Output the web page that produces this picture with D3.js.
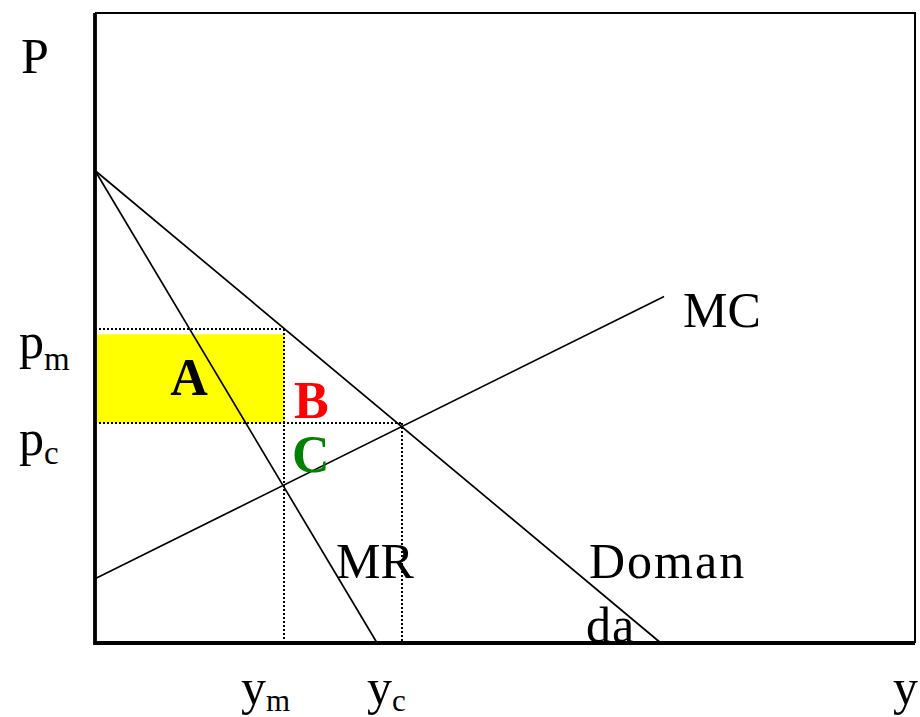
<!DOCTYPE html>
<html>
<head>
<meta charset="utf-8">
<script src="https://cdn.jsdelivr.net/npm/d3@7"></script>
<style>
html,body{margin:0;padding:0;background:#fff;}
svg{display:block;}
text{font-family:"Liberation Serif","Times New Roman",serif;}
</style>
</head>
<body>
<svg id="chart" width="920" height="717"></svg>
<script>
// ---- data ----
const demandLine = [[0, 75], [69, 0]];
const mrLine = [[0, 75], [34.4, 0]];
const mcLine = [[0, 10.2], [69.4, 55]];
const qMonopoly = 23.1;   // y_m
const qCompetitive = 37.4; // y_c
const pMonopoly = 49.8;   // p_m
const pCompetitive = 34.9; // p_c
const areaATop = 49.0;
const curveLabels = ["MC", "MR", "Doman", "da"];
const axisLabels = ["P", "y"];
const areaLabels = ["A", "B", "C"];

const svg = d3.select("#chart");
const x = d3.scaleLinear().domain([0, 100]).range([95, 915]);
const y = d3.scaleLinear().domain([0, 100]).range([643, 13]);
const line = d3.line().x(d => x(d[0])).y(d => y(d[1]));
const crispLine = d3.line().x(d => Math.round(x(d[0]))).y(d => Math.round(y(d[1])));

// yellow area A
svg.append("rect")
  .attr("x", x(0)).attr("y", y(areaATop))
  .attr("width", x(qMonopoly) - x(0))
  .attr("height", y(pCompetitive) - y(areaATop))
  .attr("fill", "#ffff00");

// frame top/right
svg.append("path")
  .attr("d", `M${x(0)},${y(100)}H${x(100)}V${y(0)}`)
  .attr("fill", "none").attr("stroke", "#000").attr("stroke-width", 2);

// dotted guides
const dots = [
  [[0, pMonopoly], [qMonopoly, pMonopoly]],
  [[qMonopoly, pMonopoly], [qMonopoly, 0]],
  [[0, pCompetitive], [qCompetitive, pCompetitive]],
  [[qCompetitive, pCompetitive], [qCompetitive, 0]]
];
svg.selectAll(".dot").data(dots).enter().append("path")
  .attr("d", crispLine).attr("fill", "none").attr("stroke", "#000")
  .attr("stroke-width", 2).attr("stroke-dasharray", "2,2");

// curves
svg.selectAll(".curve").data([demandLine, mrLine, mcLine]).enter().append("path")
  .attr("d", line).attr("fill", "none").attr("stroke", "#000").attr("stroke-width", 1.7);

// axes (thick)
svg.append("path")
  .attr("d", `M${x(0)},${y(100)}V${y(0)}H${x(100)}`)
  .attr("fill", "none").attr("stroke", "#000").attr("stroke-width", 3.8);

function label(txt, px, py, opts = {}) {
  const t = svg.append("text").attr("x", px).attr("y", py)
    .attr("font-size", opts.size || 50)
    .attr("font-weight", opts.bold ? "bold" : "normal")
    .attr("fill", opts.color || "#000")
    .attr("text-anchor", opts.anchor || "start");
  if (opts.spacing) t.attr("letter-spacing", opts.spacing);
  t.text(txt);
  return t;
}
function subLabel(main, sub, px, py, dy, subSize) {
  const t = svg.append("text").attr("x", px).attr("y", py).attr("font-size", 50);
  t.append("tspan").text(main);
  t.append("tspan").attr("font-size", subSize).attr("dy", dy).text(sub);
}

label(axisLabels[0], 21, 73);
label(axisLabels[1], 893, 704);
subLabel("p", "m", 19, 358, 12, 33);
subLabel("p", "c", 19, 455, 9, 33);
subLabel("y", "m", 241, 704, 7, 31);
subLabel("y", "c", 367, 704, 7, 31);

label(curveLabels[0], 683, 327);
label(curveLabels[1], 336, 578);
label(curveLabels[2], 589, 578, {spacing: 2});
label(curveLabels[3], 586, 642, {spacing: 1});

label(areaLabels[0], 189, 395, {bold: true, anchor: "middle", size: 52});
label(areaLabels[1], 294, 418, {bold: true, color: "#ff0000", size: 52});
label(areaLabels[2], 292, 472, {bold: true, color: "#008000", size: 52});
</script>
</body>
</html>
